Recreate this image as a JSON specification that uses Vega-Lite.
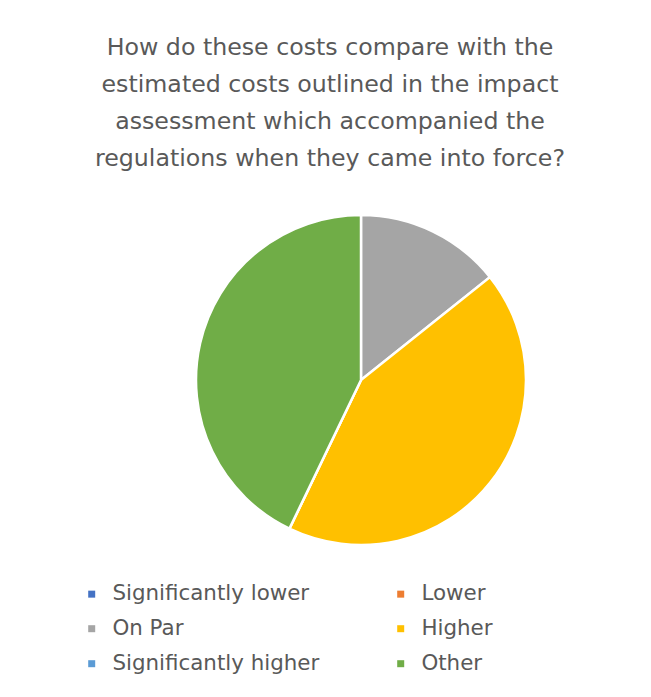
{
  "$schema": "https://vega.github.io/schema/vega-lite/v6.json",
  "description": "How do these costs compare with the estimated costs outlined in the impact assessment",
  "autosize": {"type": "none"},
  "padding": {"left": 196, "top": 215, "right": 125, "bottom": 152},
  "width": 330,
  "height": 330,
  "background": "white",
  "config": {
    "view": {"stroke": null},
    "font": "DejaVu Sans"
  },
  "title": {
    "text": [
      "How do these costs compare with the",
      "estimated costs outlined in the impact",
      "assessment which accompanied the",
      "regulations when they came into force?"
    ],
    "anchor": "middle",
    "dx": -31,
    "offset": 39,
    "fontSize": 23.7,
    "fontWeight": "normal",
    "color": "#595959",
    "lineHeight": 37
  },
  "data": {
    "values": [
      {"Response": "Significantly lower", "Rank": 1, "Count": 0},
      {"Response": "Lower", "Rank": 2, "Count": 0},
      {"Response": "On Par", "Rank": 3, "Count": 1},
      {"Response": "Higher", "Rank": 4, "Count": 3},
      {"Response": "Significantly higher", "Rank": 5, "Count": 0},
      {"Response": "Other", "Rank": 6, "Count": 3}
    ]
  },
  "mark": {
    "type": "arc",
    "outerRadius": 165,
    "stroke": "white",
    "strokeWidth": 2.5
  },
  "encoding": {
    "theta": {"field": "Count", "type": "quantitative", "stack": true},
    "order": {"field": "Rank", "type": "quantitative", "sort": "ascending"},
    "color": {
      "field": "Response",
      "type": "nominal",
      "sort": ["Significantly lower", "Lower", "On Par", "Higher", "Significantly higher", "Other"],
      "scale": {
        "domain": ["Significantly lower", "Lower", "On Par", "Higher", "Significantly higher", "Other"],
        "range": ["#4472C4", "#ED7D31", "#A5A5A5", "#FFC000", "#5B9BD5", "#70AD47"]
      },
      "legend": {
        "title": null,
        "orient": "none",
        "direction": "horizontal",
        "legendX": -115,
        "legendY": 368,
        "columns": 2,
        "columnPadding": 70,
        "rowPadding": 12,
        "symbolType": "square",
        "symbolSize": 49,
        "symbolStrokeWidth": 0,
        "labelFontSize": 21.4,
        "labelColor": "#595959",
        "labelOffset": 10,
        "labelLimit": 400
      }
    }
  }
}
